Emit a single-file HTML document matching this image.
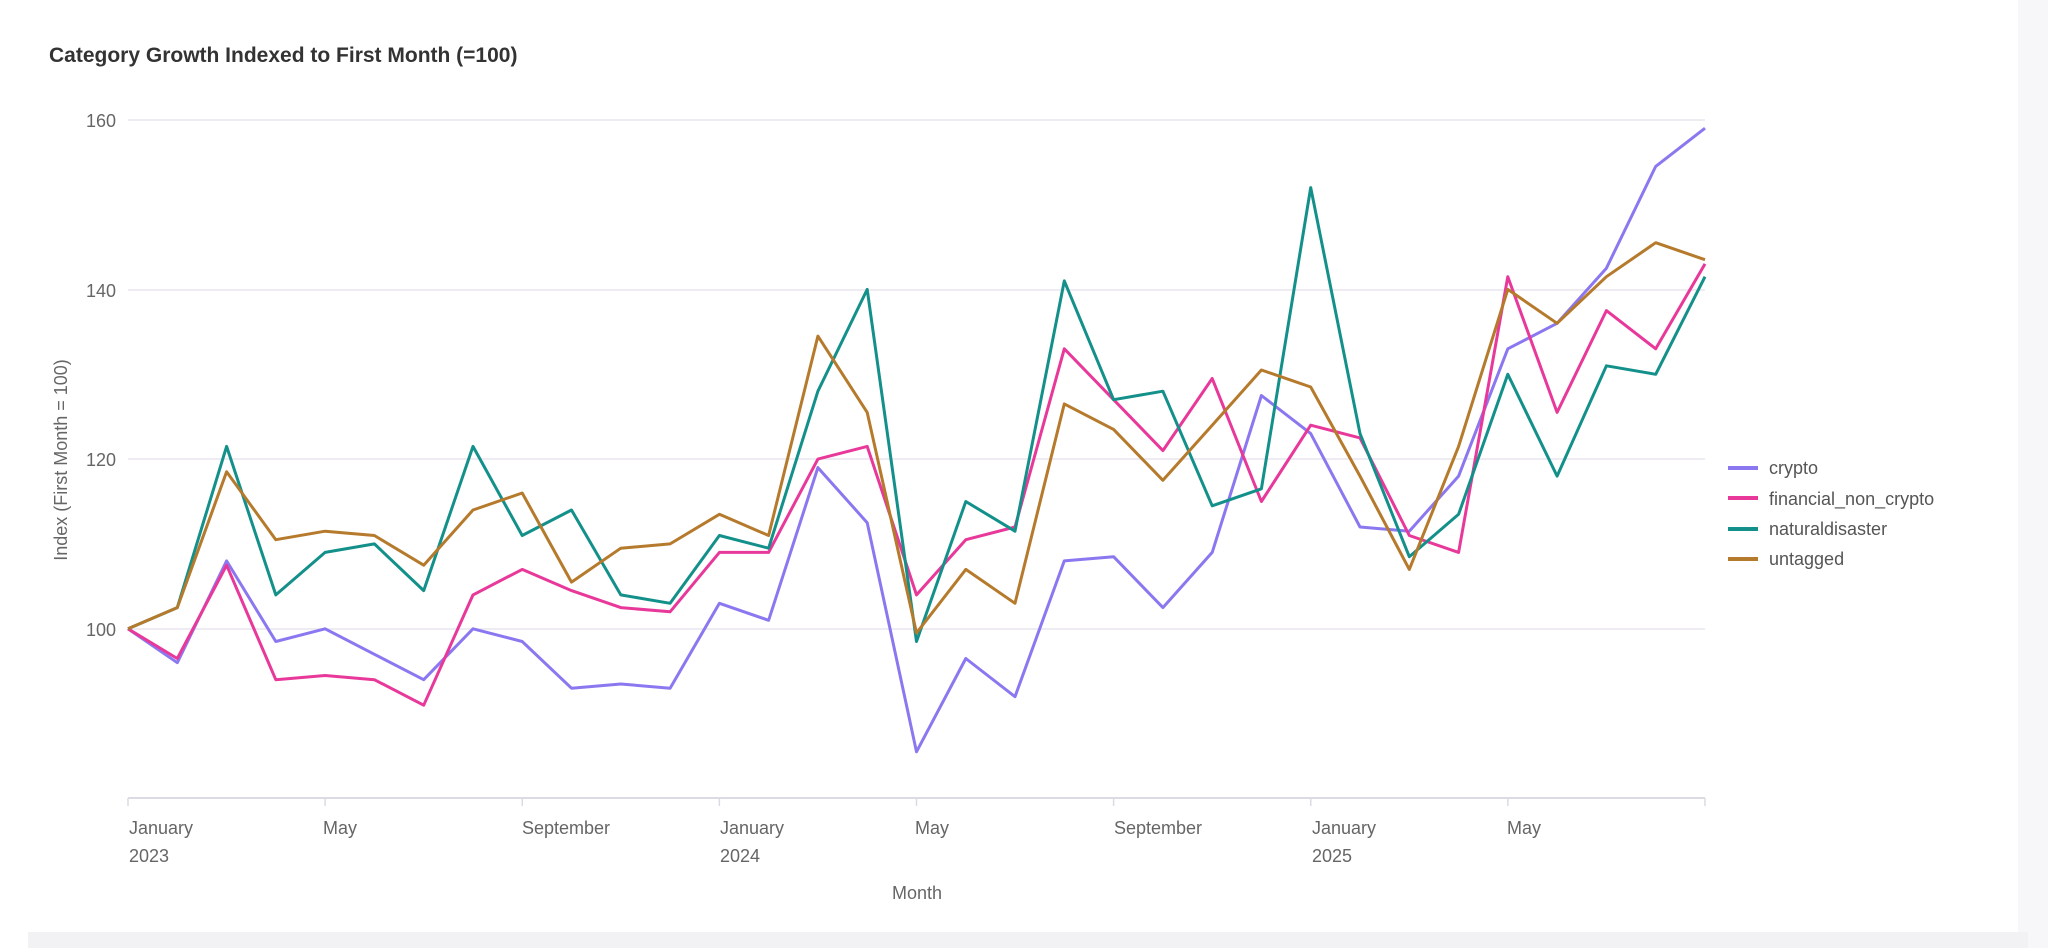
<!DOCTYPE html>
<html><head><meta charset="utf-8"><style>
html,body{margin:0;padding:0;background:#fff;}
svg{display:block;font-family:"Liberation Sans",sans-serif;}
</style></head><body>
<svg id="c" width="2048" height="948" viewBox="0 0 2048 948" xmlns="http://www.w3.org/2000/svg">
<rect x="0" y="0" width="2048" height="948" fill="#fff"/>
<rect x="2018" y="0" width="30" height="948" fill="#f7f7f9"/>
<rect x="28" y="932" width="2000" height="16" fill="#f2f2f4"/>
<text x="49" y="62" font-size="21" font-weight="bold" fill="#333">Category Growth Indexed to First Month (=100)</text>
<g stroke="#e9e6ee" stroke-width="1.5">
<line x1="128" y1="120" x2="1705" y2="120"/>
<line x1="128" y1="290" x2="1705" y2="290"/>
<line x1="128" y1="459" x2="1705" y2="459"/>
<line x1="128" y1="629" x2="1705" y2="629"/>
</g>
<line x1="128" y1="798" x2="1705" y2="798" stroke="#dcdae2" stroke-width="2"/>
<g stroke="#dcdae2" stroke-width="1.5" id="ticks"></g>
<g font-size="18" fill="#666" text-anchor="end">
<text x="116" y="127">160</text>
<text x="116" y="297">140</text>
<text x="116" y="466">120</text>
<text x="116" y="636">100</text>
</g>
<text transform="translate(67,460) rotate(-90)" font-size="18" fill="#666" text-anchor="middle">Index (First Month = 100)</text>
<g font-size="18" fill="#666">
<text x="129" y="834">January</text><text x="129" y="862">2023</text>
<text x="323" y="834">May</text>
<text x="522" y="834">September</text>
<text x="720" y="834">January</text><text x="720" y="862">2024</text>
<text x="915" y="834">May</text>
<text x="1114" y="834">September</text>
<text x="1312" y="834">January</text><text x="1312" y="862">2025</text>
<text x="1507" y="834">May</text>
</g>
<text x="917" y="899" font-size="18" fill="#666" text-anchor="middle">Month</text>
<g id="lines" fill="none" stroke-width="3" stroke-linejoin="round"></g>
<g stroke-width="4">
<line x1="1728" y1="468" x2="1758" y2="468" stroke="#8b78f0"/>
<line x1="1728" y1="498" x2="1758" y2="498" stroke="#e8399b"/>
<line x1="1728" y1="529" x2="1758" y2="529" stroke="#14908b"/>
<line x1="1728" y1="559" x2="1758" y2="559" stroke="#b57a2c"/>
</g>
<g font-size="18" fill="#555">
<text x="1769" y="474">crypto</text>
<text x="1769" y="505">financial_non_crypto</text>
<text x="1769" y="535">naturaldisaster</text>
<text x="1769" y="565">untagged</text>
</g>
</svg>
<script>
var d={
"#8b78f0":[100,96,108,98.5,100,97,94,100,98.5,93,93.5,93,103,101,119,112.5,85.5,96.5,92,108,108.5,102.5,109,127.5,123,112,111.5,118,133,136,142.5,154.5,159],
"#b57a2c":[100,102.5,118.5,110.5,111.5,111,107.5,114,116,105.5,109.5,110,113.5,111,134.5,125.5,99.5,107,103,126.5,123.5,117.5,124,130.5,128.5,118,107,121.5,140,136,141.5,145.5,143.5],
"#e8399b":[100,96.5,107.5,94,94.5,94,91,104,107,104.5,102.5,102,109,109,120,121.5,104,110.5,112,133,127,121,129.5,115,124,122.5,111,109,141.5,125.5,137.5,133,143],
"#14908b":[100,102.5,121.5,104,109,110,104.5,121.5,111,114,104,103,111,109.5,128,140,98.5,115,111.5,141,127,128,114.5,116.5,152,123,108.5,113.5,130,118,131,130,141.5]
};
var ns="http://www.w3.org/2000/svg",g=document.getElementById("lines");
var order=["#8b78f0","#e8399b","#14908b","#b57a2c"];
order.forEach(function(c){var p=d[c].map(function(v,i){return (128+i*49.28).toFixed(1)+","+(628.8-(v-100)*8.485).toFixed(1)}).join(" ");
var e=document.createElementNS(ns,"polyline");e.setAttribute("points",p);e.setAttribute("stroke",c);g.appendChild(e);});
var t=document.getElementById("ticks");
for(var i=0;i<=32;i+=4){var l=document.createElementNS(ns,"line");var x=128+i*49.28;l.setAttribute("x1",x);l.setAttribute("x2",x);l.setAttribute("y1",798);l.setAttribute("y2",806);t.appendChild(l);}
</script>
</body></html>
